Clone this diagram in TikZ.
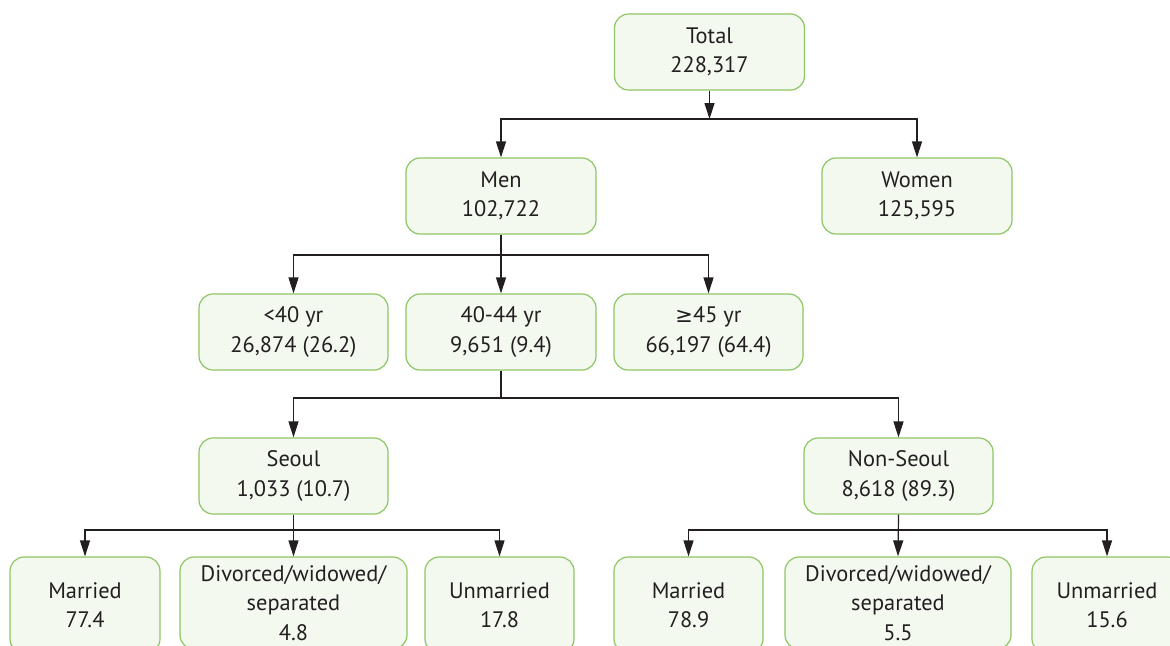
\documentclass[tikz,border=0pt]{standalone}
\usepackage{fontspec}
\setmainfont{PT Sans}
\newfontfamily\symfont{DejaVu Sans}
\usetikzlibrary{arrows.meta}
\definecolor{bord}{RGB}{141,198,99}
\definecolor{boxfill}{RGB}{244,249,240}
\definecolor{ink}{RGB}{35,31,32}
\tikzset{
  box/.style={draw=bord, fill=boxfill, line width=0.6pt, rounded corners=7pt,
    align=center, inner sep=0pt, text=ink,
    font=\fontsize{11.2}{14.6}\selectfont},
  conn/.style={draw=ink, line width=0.6pt},
  arr/.style={conn, -{Triangle[length=8pt,width=5pt]}}
}
\begin{document}
\begin{tikzpicture}[x=0.5pt,y=-0.5pt]
\useasboundingbox (0,0) rectangle (1170,645);
\clip (0,0) rectangle (1170,645);
\fill[white] (0,0) rectangle (1170,645);
% row 0
\node[box, minimum width=95pt, minimum height=38pt] (total) at (709.5,52) {Total\\228,317};
% row 1
\node[box, minimum width=95pt, minimum height=38pt] (men) at (501,196) {Men\\102,722};
\node[box, minimum width=95pt, minimum height=38pt] (women) at (917,196) {Women\\125,595};
% row 2
\node[box, minimum width=94.5pt, minimum height=38pt] (a1) at (293.5,332) {<40 yr\\26,874 (26.2)};
\node[box, minimum width=95pt, minimum height=38pt] (a2) at (501,332) {40-44 yr\\9,651 (9.4)};
\node[box, minimum width=94.5pt, minimum height=38pt] (a3) at (708.5,332) {{\symfont\fontsize{10.5}{14.6}\selectfont ≥}45 yr\\66,197 (64.4)};
% row 3
\node[box, minimum width=94.5pt, minimum height=38pt] (seoul) at (293.5,476) {Seoul\\1,033 (10.7)};
\node[box, minimum width=94.5pt, minimum height=38pt] (nonseoul) at (898.5,476) {Non-Seoul\\8,618 (89.3)};
% row 4
\node[box, minimum width=75pt, minimum height=48pt] (m1) at (85,605) {Married\\77.4};
\node[box, minimum width=113.5pt, minimum height=46pt] (d1) at (293.5,603) {Divorced/widowed/\\separated\\4.8};
\node[box, minimum width=74.5pt, minimum height=48pt] (u1) at (499.5,605) {Unmarried\\17.8};
\node[box, minimum width=74.5pt, minimum height=48pt] (m2) at (688.5,605) {Married\\78.9};
\node[box, minimum width=113pt, minimum height=46pt] (d2) at (898,603) {Divorced/widowed/\\separated\\5.5};
\node[box, minimum width=75pt, minimum height=48pt] (u2) at (1107,605) {Unmarried\\15.6};
% junctions
\coordinate (j0) at (709.5,119);
\coordinate (j1) at (501,255);
\coordinate (j2) at (501,398);
\coordinate (j3) at (293.5,530);
\coordinate (j4) at (898.5,530);
% connectors
\draw[arr] (total.south) -- (j0);
\draw[arr] (j0) -| (men.north);
\draw[arr] (j0) -| (women.north);
\draw[arr] (men.south) -- (a2.north);
\draw[arr] (j1) -| (a1.north);
\draw[arr] (j1) -| (a3.north);
\draw[conn] (a2.south) -- (j2);
\draw[arr] (j2) -| (seoul.north);
\draw[arr] (j2) -| (nonseoul.north);
\draw[arr] (seoul.south) -- (d1.north);
\draw[arr] (j3) -| (m1.north);
\draw[arr] (j3) -| (u1.north);
\draw[arr] (nonseoul.south) -- (d2.north);
\draw[arr] (j4) -| (m2.north);
\draw[arr] (j4) -| (u2.north);
\end{tikzpicture}
\end{document}
